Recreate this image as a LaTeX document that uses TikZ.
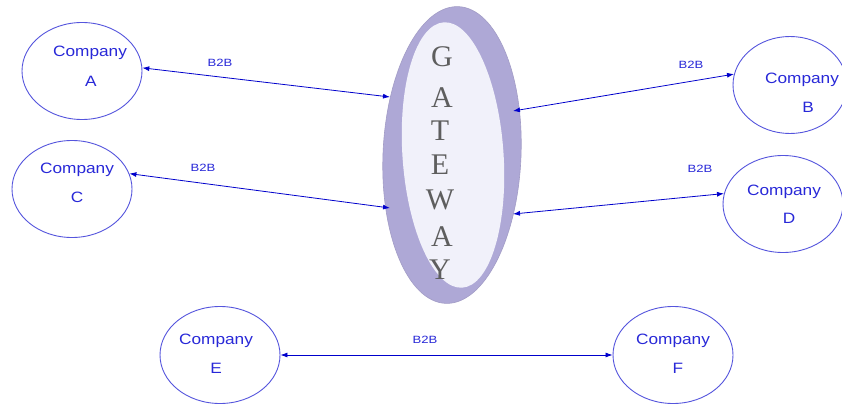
\documentclass[tikz,border=0pt]{standalone}
\usepackage{fontspec}
\setmainfont{Liberation Sans}
\newfontfamily\gwfont{Liberation Serif}
\usetikzlibrary{shapes.geometric,arrows.meta,calc}
\definecolor{lineblue}{HTML}{0000CC}
\definecolor{ellblue}{HTML}{5555DD}
\definecolor{txtblue}{HTML}{2828D8}
\definecolor{ringc}{HTML}{AEA8D6}
\definecolor{ringd}{HTML}{A29CC6}
\definecolor{innerc}{HTML}{F1F1FA}
\definecolor{gwtext}{HTML}{5E5E5E}
\tikzset{
  comp/.style={ellipse, draw=ellblue, line width=0.9pt, minimum width=120pt, minimum height=97pt, inner sep=0pt},
  ctext/.style={text=txtblue, font=\fontsize{15}{15}\selectfont, xscale=1.15, inner sep=0pt},
  b2b/.style={text=txtblue, font=\fontsize{10.5}{10.5}\selectfont, xscale=1.25, inner sep=0pt},
  link/.style={draw=lineblue, line width=0.8pt, {Latex[length=7pt,width=5pt]}-{Latex[length=7pt,width=5pt]}},
  gwl/.style={text=gwtext, font=\gwfont\fontsize{30}{30}\selectfont, inner sep=0pt}
}
\begin{document}
\begin{tikzpicture}[x=1pt,y=-1pt]
\useasboundingbox[fill=white] (0,0) rectangle (842,409);
% gateway
\node[ellipse, rotate=-2.5, minimum width=138pt, minimum height=297pt, fill=ringc, draw=ringd, line width=0.6pt] (gw) at (452,155) {};
\node[ellipse, rotate=4, minimum width=101pt, minimum height=266pt, fill=innerc, draw=none] (gwin) at (453,155) {};
\node[gwl] (g1) at (442,57) {G};
\node[gwl] (g2) at (442,98) {A};
\node[gwl] (g3) at (440,131) {T};
\node[gwl] (g4) at (440,165) {E};
\node[gwl] (g5) at (440,200) {W};
\node[gwl] (g6) at (442,237) {A};
\node[gwl] (g7) at (440,270) {Y};
\coordinate (ga) at (390,97);
\coordinate (gc) at (390,208);
\coordinate (gb) at (513,111);
\coordinate (gd) at (513,214);
% companies
\node[comp] (A) at (82,71) {};
\node[ctext] (At1) at (90,53) {Company};
\node[ctext] (At2) at (91,81) {A};
\node[comp] (C) at (72,189) {};
\node[ctext] (Ct1) at (77,170) {Company};
\node[ctext] (Ct2) at (77,197) {C};
\node[comp, minimum width=114pt] (B) at (790,85) {};
\node[ctext] (Bt1) at (802,80) {Company};
\node[ctext] (Bt2) at (808,107) {B};
\node[comp] (D) at (783,204) {};
\node[ctext] (Dt1) at (784,192) {Company};
\node[ctext] (Dt2) at (789,218) {D};
\node[comp] (E) at (220,355) {};
\node[ctext] (Et1) at (216,341) {Company};
\node[ctext] (Et2) at (216,368) {E};
\node[comp] (F) at (673,355) {};
\node[ctext] (Ft1) at (673,341) {Company};
\node[ctext] (Ft2) at (678,368) {F};
% links
\draw[link] (A.3) -- (ga);
\draw[link] (C.15) -- (gc);
\draw[link] (B.169) -- (gb);
\draw[link] (D.170) -- (gd);
\draw[link] (E.east) -- (F.west);
\node[b2b] (l1) at (220,63) {B2B};
\node[b2b] (l2) at (203,168) {B2B};
\node[b2b] (l3) at (691,65) {B2B};
\node[b2b] (l4) at (700,169) {B2B};
\node[b2b] (l5) at (425,340) {B2B};
\end{tikzpicture}
\end{document}
